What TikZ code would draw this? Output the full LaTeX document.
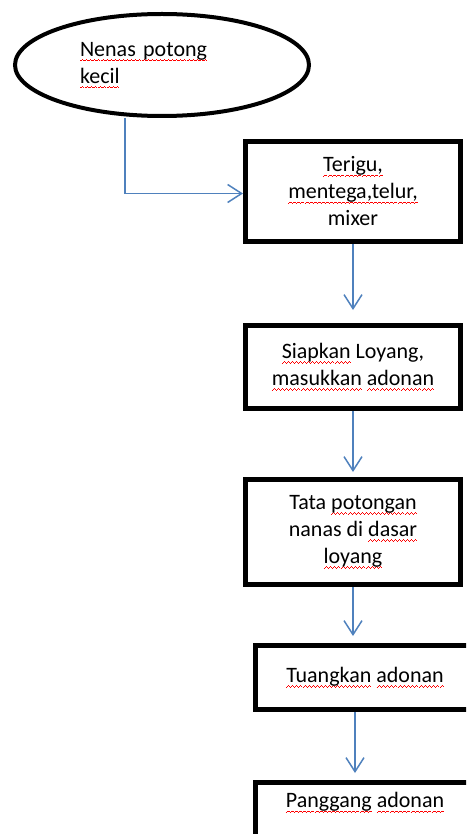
\documentclass[tikz,border=0pt]{standalone}
\usepackage{fontspec}
\setmainfont{Carlito}
\usetikzlibrary{arrows.meta,shapes.geometric}

\definecolor{flowblue}{RGB}{79,129,189}
% one period of the red spell-check wave, made of short rules
\newcommand\wavebit{\hbox{\raise0pt\hbox{\vrule width0.5pt height0.35pt}%
  \raise0.35pt\hbox{\vrule width0.5pt height0.35pt}%
  \raise0.7pt\hbox{\vrule width0.5pt height0.35pt}%
  \raise0.35pt\hbox{\vrule width0.5pt height0.35pt}}}
\newcommand\typo[1]{\setbox0\hbox{#1}\leavevmode
  \rlap{\raisebox{-2.4pt}{\color{red}\hbox to \wd0{\xleaders\wavebit\hfill}}}\box0\relax}

\begin{document}
\begin{tikzpicture}[x=0.5pt,y=-0.5pt,>={Straight Barb[length=7pt,width=9pt]},
  every node/.style={font=\fontsize{11}{13.5}\selectfont},
  start node/.style={draw,ellipse,line width=2pt,minimum width=147pt,minimum height=51pt,
    inner sep=0pt,text width=82pt,align=left},
  stepbox/.style={draw,rectangle,line width=2.5pt,minimum width=107.5pt,inner sep=0pt,align=center},
  flow/.style={->,draw=flowblue,line width=0.75pt}]

  \useasboundingbox (0,0) rectangle (466,834);
  \clip (0,0) rectangle (466,834);

  \node[start node] (nenas) at (162,65) {\typo{Nenas potong}\\ \typo{kecil}};
  \node[stepbox,minimum height=50pt] (terigu) at (353,191.5) {\typo{Terigu,}\\ \typo{mentega,telur,}\\ mixer};
  \node[stepbox,minimum height=41.5pt] (loyang) at (353,367) {\typo{Siapkan} Loyang,\\ \typo{masukkan} \typo{adonan}};
  \node[stepbox,minimum height=52.5pt] (tata) at (353,532) {Tata \typo{potongan}\\ nanas di \typo{dasar}\\ \typo{loyang}};
  \node[stepbox,minimum width=109.5pt,minimum height=32pt] (tuang) at (365,677.5) {\typo{Tuangkan} \typo{adonan}};
  \node[stepbox,minimum width=109.5pt,minimum height=36.25pt,text height=7.5pt,text depth=18.3pt] (panggang) at (365,818.75) {\typo{Panggang} \typo{adonan}};

  \draw[flow] ([xshift=-18.5pt]nenas.south) |- ([yshift=-1pt]terigu.west);
  \draw[flow,shorten >=6.5pt] (terigu) -- (loyang);
  \draw[flow,shorten >=2.5pt] (loyang) -- (tata);
  \draw[flow,shorten >=3.5pt] (tata.south) -- (tata.south |- tuang.north);
  \draw[flow,shorten >=3.5pt] ([xshift=-5pt]tuang.south) -- ([xshift=-5pt]panggang.north);
\end{tikzpicture}
\end{document}
